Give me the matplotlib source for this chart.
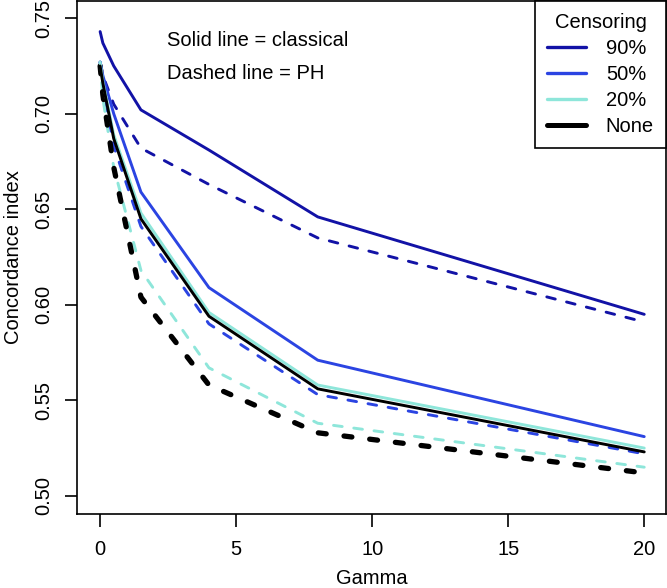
import matplotlib
matplotlib.use("Agg")
import matplotlib.pyplot as plt
from matplotlib.lines import Line2D

plt.rcParams['font.family'] = ['Liberation Sans', 'DejaVu Sans']

gamma = [0, 0.1, 0.5, 1.5, 4, 8, 20]

# classical (solid)
c90_classical = [0.743, 0.737, 0.725, 0.702, 0.681, 0.646, 0.595]
c50_classical = [0.727, 0.720, 0.700, 0.659, 0.609, 0.571, 0.531]
c20_classical = [0.727, 0.717, 0.689, 0.648, 0.596, 0.558, 0.525]
none_classical = [0.725, 0.716, 0.687, 0.645, 0.594, 0.556, 0.523]

# PH (dashed)
c90_ph = [0.727, 0.720, 0.705, 0.682, 0.663, 0.635, 0.591]
c50_ph = [0.727, 0.715, 0.683, 0.641, 0.590, 0.553, 0.522]
c20_ph = [0.727, 0.708, 0.672, 0.618, 0.567, 0.538, 0.515]
none_ph = [0.725, 0.710, 0.672, 0.604, 0.558, 0.533, 0.512]

labels = ["90%", "50%", "20%", "None"]
colors = ["#1212A6", "#2B44E2", "#8EE6DA", "#000000"]

xticks = [0, 5, 10, 15, 20]
yticks = [0.50, 0.55, 0.60, 0.65, 0.70, 0.75]

FS = 14.5

fig = plt.figure(figsize=(6.67, 5.88), dpi=100)
ax = fig.add_axes([77/667, (588-514)/588, (666-77)/667, (514-1)/588])

classical = [c90_classical, c50_classical, c20_classical, none_classical]
ph = [c90_ph, c50_ph, c20_ph, none_ph]

for i in range(4):
    if i < 3:
        ax.plot(gamma, ph[i], color=colors[i], lw=2.1, linestyle=(0, (3.0, 4.0)),
                dash_capstyle='round', zorder=2 + i)
    else:
        ax.plot(gamma, ph[i], color=colors[i], lw=3.8, linestyle=(0, (1.5, 3.4)),
                dash_capstyle='round', zorder=2 + i)
for i in range(4):
    ax.plot(gamma, classical[i], color=colors[i], lw=2.1, solid_capstyle='round',
            solid_joinstyle='round', zorder=6 + i)

ax.set_xlim(-0.85, 20.8)
ax.set_ylim(0.4905, 0.759)
ax.set_xticks(xticks)
ax.set_xticklabels([str(t) for t in xticks])
ax.set_yticks(yticks)
ax.set_yticklabels(["%.2f" % t for t in yticks], rotation=90, va='center')
ax.tick_params(axis='both', direction='out', length=9, width=1.2, labelsize=FS)
ax.tick_params(axis='x', pad=10)
ax.tick_params(axis='y', pad=8)
for sp in ax.spines.values():
    sp.set_linewidth(1.2)
ax.set_xlabel("Gamma", fontsize=FS, labelpad=7)
ax.set_ylabel("Concordance index", fontsize=FS, labelpad=8)

ax.text(2.45, 0.7385, "Solid line = classical", fontsize=FS, ha='left', va='center')
ax.text(2.45, 0.7208, "Dashed line = PH", fontsize=FS, ha='left', va='center')

handles = [Line2D([], [], color=colors[i], lw=(2.4 if i < 3 else 3.6), solid_capstyle='round') for i in range(4)]
leg = ax.legend(handles, labels, title="Censoring", loc='upper right', fontsize=FS,
                title_fontsize=FS, frameon=True, fancybox=False, edgecolor='black',
                borderaxespad=0, handlelength=1.9, handletextpad=1.0, labelspacing=0.35,
                borderpad=0.6)
leg.get_frame().set_linewidth(1.2)
leg.get_frame().set_alpha(1)
leg.set_zorder(20)

fig.savefig("out.png", dpi=100)
